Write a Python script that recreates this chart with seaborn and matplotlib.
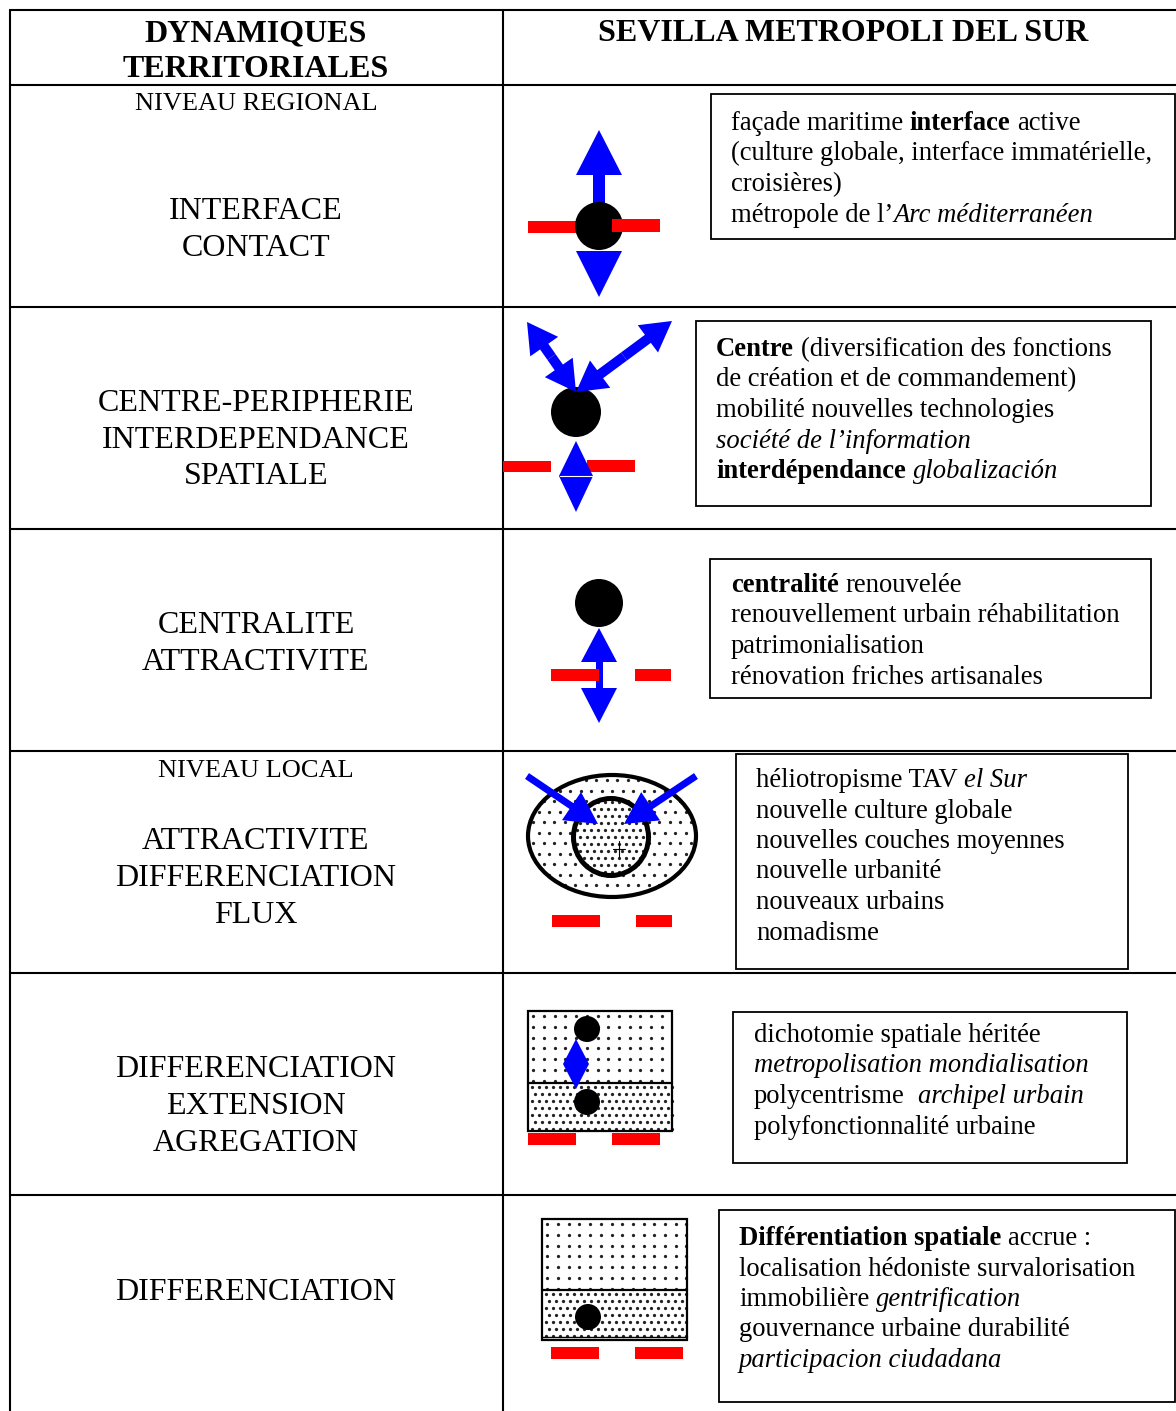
"""
Tableau : dynamiques territoriales / Sevilla metropoli del sur.
Redrawn as a pixel-space figure (1 data unit = 1 px).
"""

import numpy as np
import matplotlib
matplotlib.use("Agg")
import matplotlib.pyplot as plt
from matplotlib import patches
import seaborn as sns

# ── Table content ───────────────────────────────────────────────────────────
header_left = ["DYNAMIQUES", "TERRITORIALES"]
header_right = "SEVILLA METROPOLI DEL SUR"

level_labels = ["NIVEAU REGIONAL", None, None, "NIVEAU LOCAL", None, None]

row_labels = [
    ["INTERFACE", "CONTACT"],
    ["CENTRE-PERIPHERIE", "INTERDEPENDANCE", "SPATIALE"],
    ["CENTRALITE", "ATTRACTIVITE"],
    ["ATTRACTIVITE", "DIFFERENCIATION", "FLUX"],
    ["DIFFERENCIATION", "EXTENSION", "AGREGATION"],
    ["DIFFERENCIATION"],
]

# each line = list of (text, style) runs ; n normal, b bold, i italic
desc_interface = [
    [("façade maritime ", "n"), ("interface", "b"), (" active", "n")],
    [("(culture globale, interface immatérielle,", "n")],
    [("croisières)", "n")],
    [("métropole de l’", "n"), ("Arc méditerranéen", "i")],
]
desc_centre = [
    [("Centre", "b"), (" (diversification des fonctions", "n")],
    [("de création et de commandement)", "n")],
    [("mobilité nouvelles technologies", "n")],
    [("société de l’information", "i")],
    [("interdépendance", "b"), (" globalización", "i")],
]
desc_centralite = [
    [("centralité", "b"), (" renouvelée", "n")],
    [("renouvellement urbain réhabilitation", "n")],
    [("patrimonialisation", "n")],
    [("rénovation friches artisanales", "n")],
]
desc_attractivite = [
    [("héliotropisme TAV ", "n"), ("el Sur", "i")],
    [("nouvelle culture globale", "n")],
    [("nouvelles couches moyennes", "n")],
    [("nouvelle urbanité", "n")],
    [("nouveaux urbains", "n")],
    [("nomadisme", "n")],
]
desc_extension = [
    [("dichotomie spatiale héritée", "n")],
    [("metropolisation mondialisation", "i")],
    [("polycentrisme  ", "n"), ("archipel urbain", "i")],
    [("polyfonctionnalité urbaine", "n")],
]
desc_differenciation = [
    [("Différentiation spatiale", "b"), (" accrue :", "n")],
    [("localisation hédoniste survalorisation", "n")],
    [("immobilière ", "n"), ("gentrification", "i")],
    [("gouvernance urbaine durabilité", "n")],
    [("participacion ciudadana", "i")],
]
descriptions = [desc_interface, desc_centre, desc_centralite,
                desc_attractivite, desc_extension, desc_differenciation]

# ── Layout (pixels) ─────────────────────────────────────────────────────────
W, H = 1176, 1411
row_lines = [10, 85, 307, 529, 751, 973, 1195]
col_lines = [10, 503]
label_baselines = [[219, 256], [411, 448, 484], [633, 670],
                   [849, 886, 923], [1077, 1114, 1151], [1300]]
level_baselines = [110, None, None, 777, None, None]
boxes = [(711, 94, 1175, 239), (696, 321, 1151, 506), (710, 559, 1151, 698),
         (736, 754, 1128, 969), (733, 1012, 1127, 1163), (719, 1210, 1175, 1402)]
text_x = [731, 716, 731, 756, 754, 739]
text_y0 = [130, 356, 592, 787, 1042, 1245]
LINE_H = 30.5

BODY = 19.2
LABEL = 23
LEVEL = 19
BLUE = "#0000FF"
RED = "#FF0000"

sns.set_theme(style="white")
plt.rcParams["font.family"] = ["Liberation Serif", "DejaVu Serif"]
plt.rcParams["text.color"] = "black"

fig = plt.figure(figsize=(W / 100, H / 100), dpi=100)
ax = fig.add_axes([0, 0, 1, 1])
ax.set_xlim(0, W)
ax.set_ylim(H, 0)
ax.axis("off")
renderer = fig.canvas.get_renderer()

STYLE = {"n": {}, "b": {"fontweight": "bold"}, "i": {"fontstyle": "italic"}}


def draw_runs(x, y, runs, size):
    space = 0.25 * size * 100 / 72
    for txt, st in runs:
        body = txt.strip(" ")
        if not body:
            x += len(txt) * space
            continue
        x += (len(txt) - len(txt.lstrip(" "))) * space
        t = ax.text(x, y, body, fontsize=size, va="baseline", ha="left",
                    color="black", zorder=10, **STYLE[st])
        x += t.get_window_extent(renderer).width
        x += (len(txt) - len(txt.rstrip(" "))) * space


def rect(x0, y0, x1, y1, color, z=5):
    ax.add_patch(patches.Rectangle((x0, y0), x1 - x0, y1 - y0, facecolor=color,
                                   edgecolor="none", zorder=z))


def tri(pts, z=6):
    ax.add_patch(patches.Polygon(pts, closed=True, facecolor=BLUE,
                                 edgecolor="none", zorder=z))


def disc(cx, cy, r, z=7):
    ax.add_patch(patches.Circle((cx, cy), r, facecolor="black",
                                edgecolor="none", zorder=z))


def arrow(x0, y0, x1, y1, w, hw, hl, z=8):
    ax.add_patch(patches.FancyArrow(x0, y0, x1 - x0, y1 - y0, width=w,
                                    head_width=hw, head_length=hl,
                                    length_includes_head=True,
                                    facecolor=BLUE, edgecolor="none", zorder=z))


def dots(x0, x1, y0, y1, step, stagger, clip=None, z=3, s=5.5):
    px, py = [], []
    for j, yy in enumerate(np.arange(y0 + step / 2, y1, step)):
        off = step / 2 if (stagger and j % 2) else 0
        for xx in np.arange(x0 + step / 2 + off, x1, step):
            px.append(xx)
            py.append(yy)
    sc = ax.scatter(px, py, s=s, c="#222222", linewidths=0, zorder=z)
    if clip is not None:
        sc.set_clip_path(clip)


# ── Grid ────────────────────────────────────────────────────────────────────
for y in row_lines:
    ax.plot([col_lines[0], W], [y, y], color="black", lw=1.5, zorder=1)
for x in col_lines:
    ax.plot([x, x], [row_lines[0], H], color="black", lw=1.5, zorder=1)

# ── Header ──────────────────────────────────────────────────────────────────
for txt, yb in zip(header_left, [41, 77]):
    ax.text(256, yb, txt, fontsize=LABEL, fontweight="bold", ha="center",
            va="baseline", color="black")
ax.text(843, 41, header_right, fontsize=LABEL, fontweight="bold",
        ha="center", va="baseline", color="black")

# ── Left column ─────────────────────────────────────────────────────────────
for labels, ybs, lvl, lvl_y in zip(row_labels, label_baselines,
                                   level_labels, level_baselines):
    for txt, yb in zip(labels, ybs):
        ax.text(256, yb, txt, fontsize=LABEL, ha="center", va="baseline",
                color="black")
    if lvl:
        ax.text(256, lvl_y, lvl, fontsize=LEVEL, ha="center", va="baseline",
                color="black")

# ── Description boxes ───────────────────────────────────────────────────────
for (x0, y0, x1, y1), tx, ty, lines in zip(boxes, text_x, text_y0, descriptions):
    ax.add_patch(patches.Rectangle((x0, y0), x1 - x0, y1 - y0, fill=False,
                                   edgecolor="black", lw=1.3, zorder=9))
    for k, runs in enumerate(lines):
        draw_runs(tx, ty + k * LINE_H, runs, BODY)

# ── Row 1 : interface / contact ─────────────────────────────────────────────
rect(593, 172, 605, 206, BLUE, z=5)
tri([(576, 175), (622, 175), (599, 130)])
tri([(576, 251), (622, 251), (599, 297)])
rect(528, 221, 576, 233, RED, z=5)
disc(599, 226, 24)
rect(612, 219, 660, 232, RED, z=8)

# ── Row 2 : centre-périphérie ───────────────────────────────────────────────
disc(576, 412, 25)
for end in [(527, 322), (672, 321)]:
    mx, my = (576 + end[0]) / 2, (392 + end[1]) / 2
    arrow(mx, my, 576, 392, 10, 34, 30)
    arrow(mx, my, end[0], end[1], 10, 34, 30)
rect(503, 461, 551, 472, RED)
rect(587, 460, 635, 472, RED)
tri([(559, 476), (593, 476), (576, 441)], z=8)
tri([(559, 476), (593, 476), (576, 512)], z=8)
ax.plot([560, 592], [476, 476], color="white", lw=0.8, zorder=9)

# ── Row 3 : centralité ──────────────────────────────────────────────────────
disc(599, 603, 24)
rect(596, 660, 603, 690, BLUE, z=5)
tri([(581, 662), (617, 662), (599, 628)])
tri([(581, 688), (617, 688), (599, 723)])
rect(551, 669, 599, 681, RED, z=7)
rect(635, 669, 671, 681, RED, z=7)

# ── Row 4 : attractivité / flux ─────────────────────────────────────────────
outer = patches.Ellipse((612, 836), 168, 122, facecolor="white",
                        edgecolor="none", zorder=2)
ax.add_patch(outer)
dots(528, 696, 775, 897, 10.5, True, clip=outer, z=3)
inner = patches.Ellipse((611, 837), 75, 77, facecolor="white",
                        edgecolor="none", zorder=4)
ax.add_patch(inner)
dots(573, 649, 798, 876, 7, True, clip=inner, z=5)
ax.add_patch(patches.Ellipse((612, 836), 168, 122, fill=False,
                             edgecolor="black", lw=3, zorder=6))
ax.add_patch(patches.Ellipse((611, 837), 75, 77, fill=False,
                             edgecolor="black", lw=3.6, zorder=6))
ax.plot([613, 625], [849, 849], color="black", lw=0.8, zorder=6)
ax.plot([619, 619], [841, 857], color="black", lw=0.8, zorder=6)
arrow(527, 776, 598, 824, 7, 34, 32)
arrow(696, 776, 624, 824, 7, 34, 32)
rect(552, 915, 600, 927, RED)
rect(636, 915, 672, 927, RED)

# ── Row 5 : différenciation / extension ─────────────────────────────────────
dots(528, 672, 1011, 1083, 10.7, False, z=3)
dots(528, 672, 1083, 1131, 7, True, z=3)
ax.add_patch(patches.Rectangle((528, 1011), 144, 120, fill=False,
                               edgecolor="black", lw=1.6, zorder=6))
ax.plot([528, 672], [1083, 1083], color="black", lw=1.6, zorder=6)
disc(587, 1029, 13)
disc(587, 1102, 13)
tri([(563, 1064), (576, 1039), (589, 1064), (576, 1089)], z=8)
rect(528, 1133, 576, 1145, RED)
rect(612, 1133, 660, 1145, RED)

# ── Row 6 : différenciation ─────────────────────────────────────────────────
dots(542, 687, 1219, 1290, 10.7, False, z=3)
dots(542, 687, 1290, 1338, 7, True, z=3)
ax.add_patch(patches.Rectangle((542, 1219), 145, 121, fill=False,
                               edgecolor="black", lw=1.6, zorder=6))
ax.plot([542, 687], [1290, 1290], color="black", lw=1.6, zorder=6)
ax.plot([542, 687], [1337, 1337], color="black", lw=1.0, zorder=6)
disc(588, 1317, 13)
rect(551, 1347, 599, 1359, RED)
rect(635, 1347, 683, 1359, RED)

fig.savefig("out.png", dpi=100)
plt.close(fig)
